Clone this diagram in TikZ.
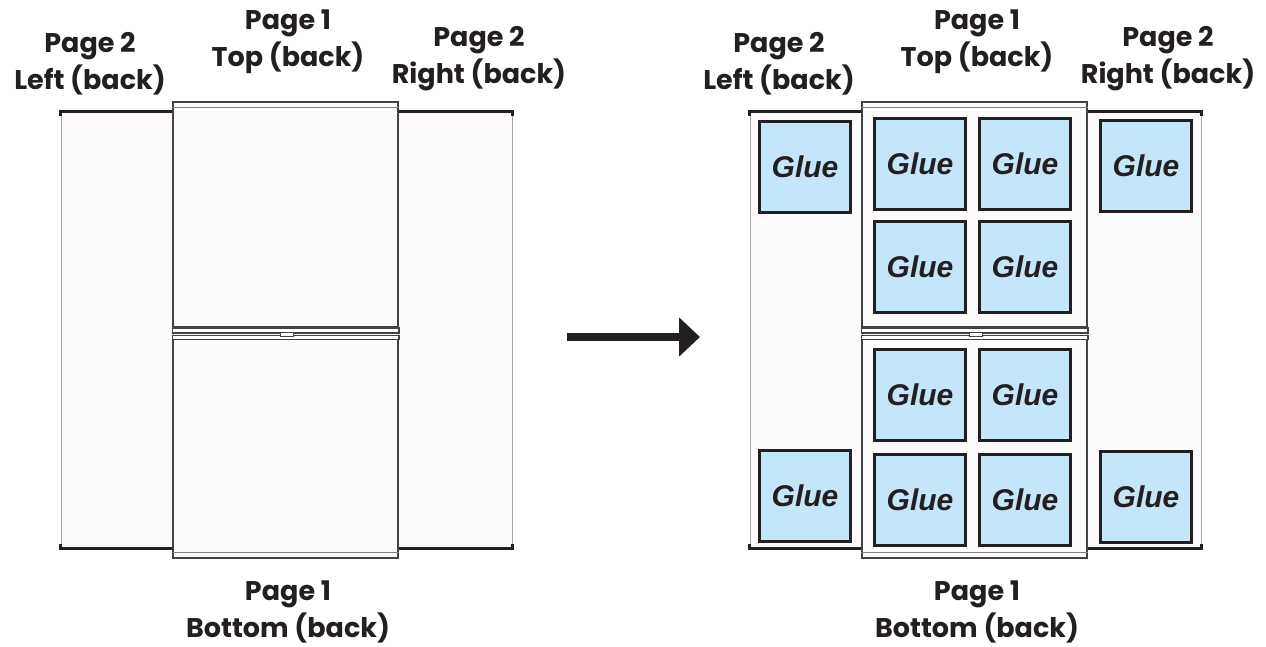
\documentclass[tikz,border=0pt]{standalone}
\usepackage{fontspec}
\setmainfont{Poppins}
\newfontfamily\gluefont{Liberation Sans}
\usepackage{tikz}
\usetikzlibrary{arrows.meta}
\definecolor{paper}{HTML}{FDFAFB}
\definecolor{glueblue}{HTML}{C3E6F8}
\definecolor{ink}{HTML}{231F20}
\tikzstyle{side} = [rectangle, minimum width=112pt, minimum height=436pt, inner sep=0pt, draw=gray!70, line width=0.8pt, fill=paper]
\tikzstyle{half} = [rectangle, minimum width=225pt, inner sep=0pt, draw=ink!85, line width=1.5pt, fill=paper]
\tikzstyle{glue} = [rectangle, minimum size=91pt, inner sep=0pt, draw=ink, line width=3pt, fill=glueblue, text=ink, font=\gluefont\fontsize{30}{34}\selectfont\bfseries\itshape]
\tikzstyle{caption} = [align=center, text=ink, font=\fontsize{27}{37}\selectfont\bfseries]
\tikzstyle{rim} = [line width=3pt, ink]
\tikzstyle{fold} = [line width=0.6pt, gray]
\tikzstyle{arrow} = [line width=8pt, ink, -{Triangle[length=21pt,width=38pt]}]

\begin{document}
\begin{tikzpicture}[x=1pt, y=-1pt]
        \useasboundingbox (0,0) rectangle (1266,646);

        \foreach \s/\dx in {a/0, b/689} {
            \node (\s-left) [side] at (\dx+117,330) {};
            \node (\s-right) [side, minimum width=114pt] at (\dx+455,330) {};
            \draw [rim] ([yshift=-4pt]\s-left.north west) -- (\s-left.north west) -- (\s-left.north east);
            \draw [rim] ([yshift=4pt]\s-left.south west) -- (\s-left.south west) -- (\s-left.south east);
            \draw [rim] ([yshift=-4pt]\s-right.north east) -- (\s-right.north east) -- (\s-right.north west);
            \draw [rim] ([yshift=4pt]\s-right.south east) -- (\s-right.south east) -- (\s-right.south west);

            \node (\s-top) [half, minimum height=225pt] at (\dx+285.5,214.5) {};
            \node (\s-bottom) [half, minimum height=222pt] at (\dx+285.5,447) {};
            \draw [fold] ([yshift=-6pt]\s-top.north west) -- ([yshift=-6pt]\s-top.north east);
            \draw [half, fill=white] (\s-top.south west) rectangle ([yshift=-5pt]\s-top.south east);
            \draw [half, fill=white] (\s-bottom.north west) rectangle ([yshift=-4pt]\s-bottom.north east);
            \draw [fold] ([yshift=6pt]\s-bottom.south west) -- ([yshift=6pt]\s-bottom.south east);
            \draw [half, line width=1pt, fill=white] (\dx+280,332) rectangle (\dx+293,336);

            \node (\s-capleft) [caption] at (\dx+90,64) {Page 2\\Left (back)};
            \node (\s-captop) [caption] at (\dx+288,42) {Page 1\\Top (back)};
            \node (\s-capright) [caption] at (\dx+479,59) {Page 2\\Right (back)};
            \node (\s-capbottom) [caption] at (\dx+288,612) {Page 1\\Bottom (back)};
        }

        \foreach \gx/\gy [count=\i] in {805/167, 920/164, 1025/164, 1146/166, 920/267, 1025/267, 920/395, 1025/395, 805/496, 920/500, 1025/500, 1146/497}
            \node (glue\i) [glue] at (\gx,\gy) {\raisebox{-2pt}{Glue}};

        \coordinate (arrtail) at (567,337);
        \coordinate (arrtip) at (700,337);
        \draw [arrow] (arrtail) -- (arrtip);
    \end{tikzpicture}
\end{document}
